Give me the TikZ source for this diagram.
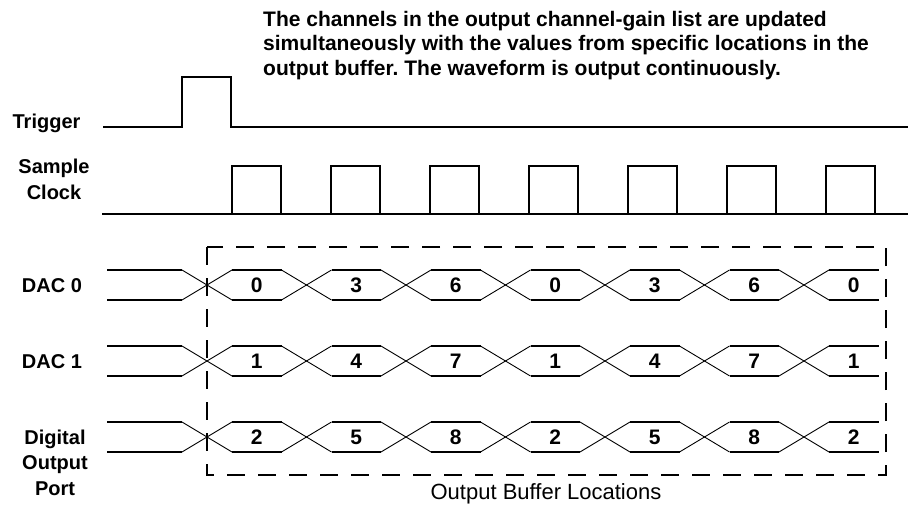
\documentclass[tikz,border=0pt]{standalone}
\usepackage{fontspec}
\setmainfont{Liberation Sans}
\usetikzlibrary{positioning}
\frenchspacing

\begin{document}
\begin{tikzpicture}[
  x=1pt, y=-1pt,
  every node/.style={inner sep=0pt},
  signal/.style={line width=2pt, line join=miter},
  swap/.style={line width=0.9pt},
  bufbox/.style={line width=2pt, dash pattern=on 18pt off 13pt},
  lab/.style={font=\fontsize{20}{25.5}\selectfont\bfseries, align=center, anchor=base},
  val/.style={font=\fontsize{21}{24}\selectfont\bfseries}
]
  \useasboundingbox (0,0) rectangle (908,504);
  % ----- note on top -----
  \node[anchor=base west, align=left, font=\fontsize{21}{24.5}\selectfont\bfseries] (note) at (263,75)
    {The channels in the output channel-gain list are updated\\
     simultaneously with the values from specific locations in the\\
     output buffer. The waveform is output continuously.};
  % ----- signal names -----
  \node[lab] (trig) at (46.5,128) {Trigger};
  \node[lab] (clk) at (54,199) {Sample\\Clock};
  \node[lab] (dac0) at (52,292) {DAC 0};
  \node[lab] (dac1) at (52,368) {DAC 1};
  \node[lab] (dport) at (55,495) {Digital\\Output\\Port};
  % ----- trigger and sample clock -----
  \draw[signal] (103,127) -- (182,127) -- (182,77) -- (231,77) -- (231,127) -- (908,127);
  \draw[signal] (102,214) -- (908,214);
  \foreach \k in {0,...,6}
    \draw[signal] (232+99*\k,214) -- (232+99*\k,166) -- (281+99*\k,166) -- (281+99*\k,214);
  % ----- buffer rows (DAC 0, DAC 1, digital port) -----
  \foreach \r/\y in {0/285, 1/361, 2/437} {
    \draw[signal] (107,\y-15) -- (182,\y-15);
    \draw[signal] (107,\y+15) -- (182,\y+15);
    \foreach \k in {0,...,6} {
      \pgfmathsetmacro\cx{207+99.5*\k}
      \pgfmathtruncatemacro\v{\r+3*mod(\k,3)}
      \draw[swap] (\cx-25,\y-15) -- (\cx+25,\y+15);
      \draw[swap] (\cx-25,\y+15) -- (\cx+25,\y-15);
      \draw[signal] (\cx+25,\y-15) -- (\cx+74.5,\y-15);
      \draw[signal] (\cx+25,\y+15) -- (\cx+74.5,\y+15);
      \node[val] (v\r\k) at (\cx+49.75,\y) {\v};
    }
  }
  % ----- output buffer frame -----
  \draw[bufbox] (207,247) rectangle (886,475);
  \node[anchor=base, font=\fontsize{22}{24}\selectfont] (buf) at (546,499) {Output Buffer Locations};
\end{tikzpicture}
\end{document}
